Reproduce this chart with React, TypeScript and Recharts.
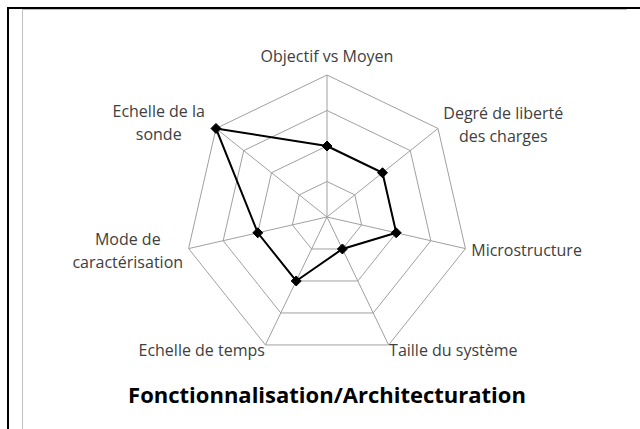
import { RadarChart, Radar, PolarGrid, PolarAngleAxis, PolarRadiusAxis } from 'recharts';

// axes of the radar, clockwise from the top
const categories = [
  'Objectif vs Moyen',
  'Degré de liberté des charges',
  'Microstructure',
  'Taille du système',
  'Echelle de temps',
  'Mode de caractérisation',
  'Echelle de la sonde',
];

// how each label wraps in the original
const labelLines = [
  ['Objectif vs Moyen'],
  ['Degré de liberté', 'des charges'],
  ['Microstructure'],
  ['Taille du système'],
  ['Echelle de temps'],
  ['Mode de', 'caractérisation'],
  ['Echelle de la', 'sonde'],
];

const scores = [2, 2, 2, 1, 2, 2, 4];

const radiusTicks = [0, 1, 2, 3, 4];

const title = 'Fonctionnalisation/Architecturation';

const data = categories.map((name, i) => ({ name, score: scores[i] }));

// label placement relative to the tick point recharts hands us
const labelPos = [
  { dx: 0, dy: -5, anchor: 'middle' },
  { dx: 59, dy: -4, anchor: 'middle' },
  { dx: -2, dy: 6, anchor: 'start' },
  { dx: -3, dy: 4, anchor: 'start' },
  { dx: 3, dy: 4, anchor: 'end' },
  { dx: -53, dy: -5, anchor: 'middle' },
  { dx: -51, dy: -6, anchor: 'middle' },
];

const AxisLabel = (props: any) => {
  const { x, y, payload } = props;
  const i = props.index ?? payload.index ?? categories.indexOf(payload.value);
  const pos = labelPos[i];
  const lines = labelLines[i];
  return (
    <text
      x={x + pos.dx}
      y={y + pos.dy}
      textAnchor={pos.anchor}
      fill="#404040"
      fontSize={16}
      fontFamily="Open Sans"
    >
      {lines.map((line, k) => (
        <tspan key={k} x={x + pos.dx} dy={k === 0 ? 0 : 23}>
          {line}
        </tspan>
      ))}
    </text>
  );
};

const Diamond = (props: any) => {
  const { cx, cy } = props;
  const r = 5;
  return (
    <polygon
      points={`${cx},${cy - r} ${cx + r},${cy} ${cx},${cy + r} ${cx - r},${cy}`}
      fill="#000"
      stroke="#000"
    />
  );
};

export default function App() {
  return (
    <div style={{ position: 'absolute', left: 0, top: 0, width: 640, height: 429, background: '#fff', overflow: 'hidden' }}>
      {/* frame borders from the original sheet */}
      <div style={{ position: 'absolute', left: 7, top: 7, width: 633, height: 2, background: '#000' }} />
      <div style={{ position: 'absolute', left: 7, top: 7, width: 2, height: 422, background: '#000' }} />
      <div style={{ position: 'absolute', left: 22, top: 9, width: 605, height: 1, background: '#c0c0c0' }} />
      <div style={{ position: 'absolute', left: 22, top: 9, width: 1, height: 420, background: '#c0c0c0' }} />

      <div style={{ position: 'absolute', left: 0, top: 0 }}>
        <RadarChart
          width={640}
          height={429}
          data={data}
          cx={327}
          cy={217}
          outerRadius={142}
          margin={{ top: 0, right: 0, bottom: 0, left: 0 }}
        >
          <PolarGrid gridType="polygon" stroke="#a0a0a0" strokeWidth={1} />
          <PolarAngleAxis dataKey="name" tick={<AxisLabel />} tickLine={false} axisLine={false} />
          <PolarRadiusAxis domain={[0, 4]} ticks={radiusTicks} tick={false} axisLine={false} tickCount={5} />
          <Radar
            dataKey="score"
            stroke="#000"
            strokeWidth={2}
            fill="none"
            fillOpacity={0}
            dot={<Diamond />}
            isAnimationActive={false}
          />
        </RadarChart>
      </div>

      <div
        style={{
          position: 'absolute',
          left: 0,
          width: 654,
          top: 380,
          textAlign: 'center',
          fontFamily: 'Open Sans',
          fontWeight: 'bold',
          fontSize: 22,
          color: '#000',
          lineHeight: '28px',
          whiteSpace: 'nowrap',
        }}
      >
        {title}
      </div>
    </div>
  );
}
